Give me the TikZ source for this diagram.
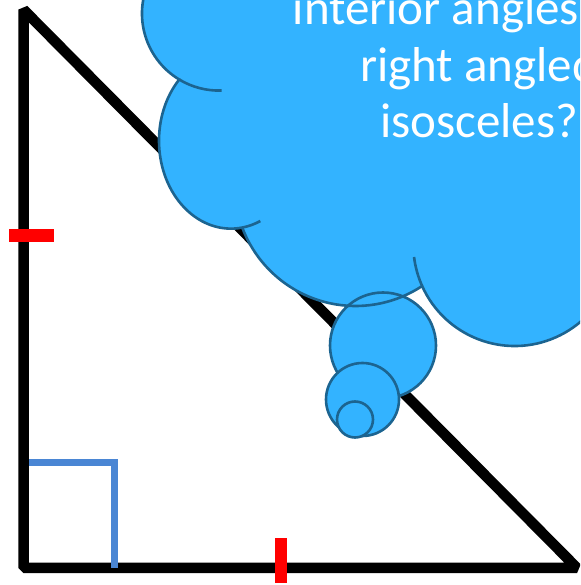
\documentclass[tikz,border=0pt]{standalone}
\usepackage{fontspec}
\setmainfont{Carlito}
\usetikzlibrary{positioning}
\definecolor{cloudFill}{HTML}{33B3FF}
\definecolor{cloudLine}{HTML}{1C6490}
\definecolor{tickRed}{HTML}{FF0000}
\definecolor{rightBlue}{HTML}{4A86D4}
\tikzset{
  triEdge/.style={draw=black, line width=10.5pt, line join=bevel},
  tickMark/.style={draw=tickRed, line width=12.5pt},
  rightMark/.style={draw=rightBlue, line width=7pt},
  cloudEdge/.style={draw=cloudLine, line width=2.6pt},
  bubble/.style={circle, fill=cloudFill, draw=cloudLine, line width=2.6pt,
    inner sep=0pt, outer sep=0pt},
  thoughtText/.style={text=white, font=\fontsize{49}{56.5}\selectfont,
    align=center, inner sep=0pt},
}

\begin{document}
\begin{tikzpicture}[x=1pt, y=1pt]
  \useasboundingbox (0,0) rectangle (580,585);
  \clip (0,0) rectangle (580,585);

  % triangle and its marks
  \coordinate (apex) at (23.5,575.4);
  \coordinate (corner) at (23.5,17);
  \coordinate (foot) at (577,17);
  \draw[triEdge] (apex) -- (corner) -- (foot) -- cycle;
  \draw[tickMark] (9,349.5) -- (54,349.5);
  \draw[tickMark] (281,2) -- (281,47);
  \draw[rightMark] (29,122.5) -- (114,122.5) -- (114,17);

  % thought cloud
  \path[fill=cloudFill, save path=\cloudOutline]
    (152.3,609.9) arc[start angle=150, end angle=238.9, radius=77]
    coordinate (jointA)
    arc[start angle=136, end angle=279, x radius=72, y radius=88]
    coordinate (jointB)
    arc[start angle=200.6, end angle=303.4, radius=121]
    coordinate (jointC)
    arc[start angle=204.1, end angle=380, radius=101.4]
    -- (640,375) -- (640,640) -- (152.3,640) -- cycle;
  \node[bubble, minimum size=106pt] (bubbleBig) at (383,239.5) {};
  \node[bubble, minimum size=73pt] (bubbleMid) at (362.5,185.5) {};
  \node[bubble, minimum size=36pt] (bubbleSmall) at (355,165.5) {};
  \path[cloudEdge, use path=\cloudOutline];
  \draw[cloudEdge] (jointA) arc[start angle=238.9, end angle=272, radius=77];
  \draw[cloudEdge] (jointB) arc[start angle=279, end angle=294, x radius=72, y radius=88];
  \draw[cloudEdge] (jointC) arc[start angle=204.1, end angle=187, radius=101.4];

  \node[thoughtText, anchor=base] (thought) at (479,447)
    {\makebox[7.6em][l]{interior angles}\\right angled\\isosceles?};
\end{tikzpicture}
\end{document}
